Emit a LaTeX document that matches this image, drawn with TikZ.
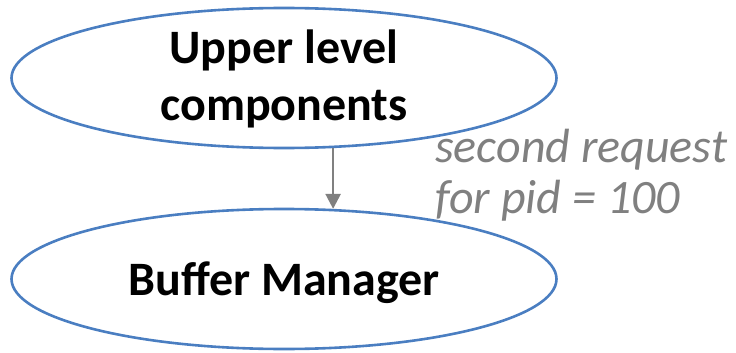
\documentclass[tikz,border=0pt]{standalone}
\usepackage{fontspec}
\setmainfont{Carlito}
\usetikzlibrary{shapes.geometric,arrows.meta}
\definecolor{ovalblue}{RGB}{74,126,193}
\definecolor{notegray}{RGB}{128,128,128}

\begin{document}
\begin{tikzpicture}[x=1pt,y=-1pt,
    oval/.style={ellipse, draw=ovalblue, line width=2.6pt, minimum width=545pt,
      minimum height=140pt, inner sep=0pt, align=center, text depth=0pt,
      font=\fontsize{48}{57}\selectfont\bfseries},
    note/.style={text=notegray, inner sep=0pt, align=left, anchor=base west,
      font=\fontsize{48}{51}\selectfont\itshape}]

    \useasboundingbox (0,0) rectangle (736,353);

    \node[oval, text height=84pt] (upper) at (284,78) {Upper level\\components};
    \node[oval, text height=32pt] (buffer) at (284,279) {Buffer Manager};

    \draw[notegray, line width=2.5pt, -{Triangle[width=15pt,length=15pt]}]
        (upper.-55.1) -- (buffer.55.1);

    \node[note] (request) at (435,213) {second request\\for pid = 100};

\end{tikzpicture}
\end{document}
